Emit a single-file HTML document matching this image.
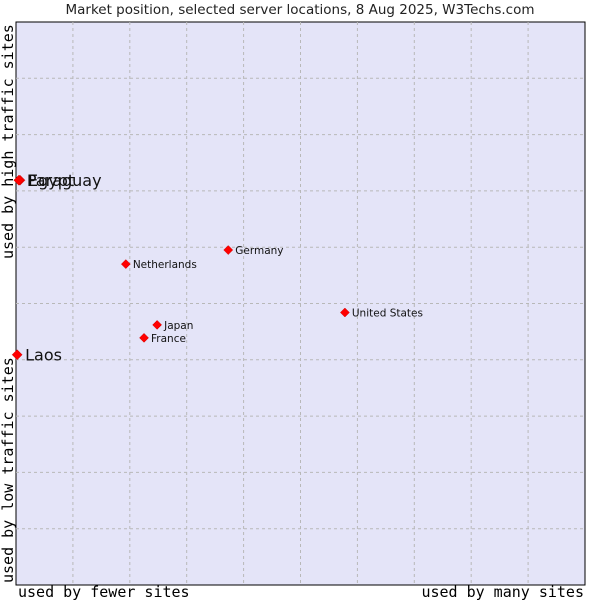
<!DOCTYPE html>
<html><head><meta charset="utf-8"><style>
body{margin:0;background:#fff;width:600px;height:600px;overflow:hidden}
svg text{font-family:"DejaVu Sans","Liberation Sans",sans-serif}
</style></head><body>
<svg id="chart" width="600" height="600" xmlns="http://www.w3.org/2000/svg">
<text x="300" y="14" text-anchor="middle" font-size="13.5" fill="#222">Market position, selected server locations, 8 Aug 2025, W3Techs.com</text>
<rect x="16" y="22" width="569" height="563" fill="#e4e4f8" stroke="#000" stroke-width="1"/>
<g id="grid"></g>
<g id="points"></g>
<text x="18" y="597" font-size="15" style="font-family:'DejaVu Sans Mono',monospace">used by fewer sites</text>
<text x="584" y="597" text-anchor="end" font-size="15" style="font-family:'DejaVu Sans Mono',monospace">used by many sites</text>
<text transform="translate(13,259) rotate(-90)" font-size="15" style="font-family:'DejaVu Sans Mono',monospace">used by high traffic sites</text>
<text transform="translate(13,583) rotate(-90)" font-size="15" style="font-family:'DejaVu Sans Mono',monospace">used by low traffic sites</text>
</svg>
<script>
const names=["Egypt","Paraguay","Laos","Netherlands","Germany","Japan","France","United States"];
const xVals=[0.7,0.5,0.2,19.3,37.3,24.8,22.5,57.8];
const yVals=[71.9,71.9,40.9,57.0,59.5,46.2,43.9,48.4];
const bigLabel=[true,true,true,false,false,false,false,false];
const gridTicks=[10,20,30,40,50,60,70,80,90];
const L=16,R=585,T=22,B=585;
const sx=v=>L+v*(R-L)/100, sy=v=>B-v*(B-T)/100;
const ns="http://www.w3.org/2000/svg";
const g=document.getElementById('grid'), p=document.getElementById('points');
gridTicks.forEach(t=>{
 const v=document.createElementNS(ns,'line');
 
 
 v.setAttribute('x1',sx(t));v.setAttribute('x2',sx(t));v.setAttribute('y1',T);v.setAttribute('y2',B);
 v.setAttribute('stroke','#b8b8b8');v.setAttribute('stroke-dasharray','3,3');g.appendChild(v);
 const h=document.createElementNS(ns,'line');
 
 
 h.setAttribute('y1',sy(t));h.setAttribute('y2',sy(t));h.setAttribute('x1',L);h.setAttribute('x2',R);
 h.setAttribute('stroke','#b8b8b8');h.setAttribute('stroke-dasharray','3,3');g.appendChild(h);
});
names.forEach((n,i)=>{
 const x=sx(xVals[i]),y=sy(yVals[i]);
 const c=document.createElementNS(ns,'path');
 
 
 const r=bigLabel[i]?5:4.5;
 c.setAttribute('d',`M${x-r},${y} L${x},${y-r} L${x+r},${y} L${x},${y+r}Z`);
 c.setAttribute('fill','#f00');c.setAttribute('stroke','#c00');c.setAttribute('stroke-width','0.5');p.appendChild(c);
 const t=document.createElementNS(ns,'text');
 
 
 t.setAttribute('x',x+(bigLabel[i]?8:7));t.setAttribute('y',y+(bigLabel[i]?6:4));
 t.setAttribute('font-size',bigLabel[i]?'16':'10.5');t.setAttribute('fill','#111');
 t.textContent=n;p.appendChild(t);
});
</script>
</body></html>
